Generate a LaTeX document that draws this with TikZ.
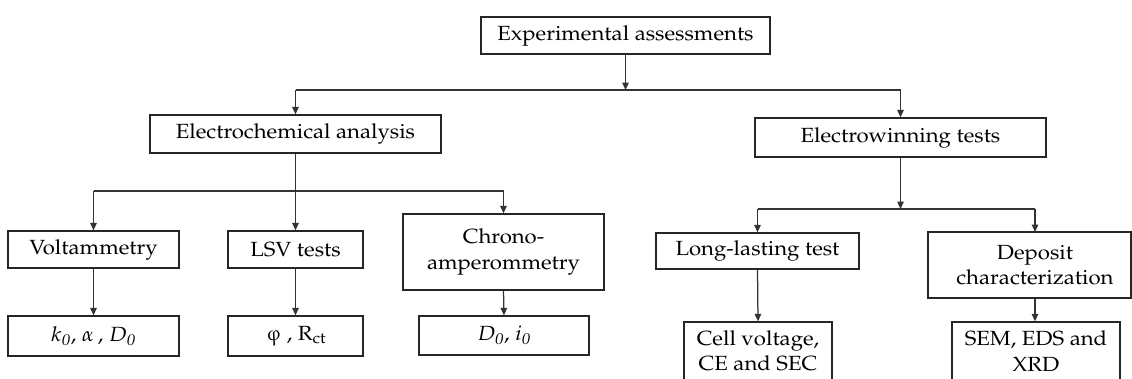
\documentclass[tikz,border=0pt]{standalone}
\usepackage[T1]{fontenc}
\usepackage{mathpazo}
\usetikzlibrary{arrows.meta,calc}
\newcommand{\hs}[1]{\scalebox{1.08}[1]{#1}}
\newcommand{\uphi}{\tikz[baseline=(p.base)]\node[inner sep=0pt,outer sep=0pt,minimum width=0pt,minimum height=0pt,draw=none,xslant=-0.22](p){$\varphi$};}
\tikzset{
  box/.style={draw=black!85, line width=1.25pt, inner sep=0pt, align=center,
    font=\fontsize{20.5}{25.5}\selectfont},
  arr/.style={draw=black!80, line width=1.25pt, -{Triangle[length=7.5pt,width=6.5pt]}},
  ln/.style={draw=black!80, line width=1.25pt}
}
\begin{document}
\begin{tikzpicture}[x=1pt,y=-1pt]
\useasboundingbox (0,0) rectangle (1132,378);
\clip (0,0) rectangle (1132,378);
% level 0
\node[box, minimum width=289pt, minimum height=37pt] (top) at (625.5,35.5) {\hs{Experimental assessments}};
% level 1
\node[box, minimum width=291pt, minimum height=38pt] (ea) at (295.5,134) {\hs{Electrochemical analysis}};
\node[box, minimum width=291pt, minimum height=39pt] (ew) at (900.5,137.5) {\hs{Electrowinning tests}};
% level 2 left
\node[box, minimum width=171pt, minimum height=37pt] (volt) at (93.5,249.5) {\hs{Voltammetry}};
\node[box, minimum width=135pt, minimum height=37pt] (lsv) at (295.5,249.5) {\hs{LSV tests}};
\node[box, minimum width=201pt, minimum height=76pt] (chr) at (503.5,252) {\hs{Chrono-}\\\hs{amperommetry}};
% level 3 left
\node[box, minimum width=171pt, minimum height=40pt] (r1) at (93.5,336) {\hs{$k_{\mathit{0}}$, $\alpha$\,, $D_{\mathit{0}}$}};
\node[box, minimum width=135pt, minimum height=40pt] (r2) at (295.5,336) {\hs{\uphi\,, $\mathrm{R_{ct}}$}};
\node[box, minimum width=170pt, minimum height=39pt] (r3) at (504,335.5) {\hs{$D_{\mathit{0}}$, $i_{\mathit{0}}$}};
% level 2 right
\node[box, minimum width=203pt, minimum height=36pt] (long) at (757.5,251) {\hs{Long-lasting test}};
\node[box, minimum width=203pt, minimum height=66pt] (dep) at (1029.5,265) {\hspace*{11pt}\hs{Deposit}\\\hspace*{11pt}\hs{characterization}};
% level 3 right (cut at the bottom edge)
\node[box, minimum width=148pt, minimum height=58pt] (cell) at (758,351) {\hs{Cell voltage,}\\\hs{CE and SEC}};
\node[box, minimum width=168pt, minimum height=58pt] (sem) at (1036,351) {\hs{SEM, EDS and}\\\hs{XRD}};
% junctions
\coordinate (j0) at (625.5,90);
\coordinate (j1) at (295.5,191);
\coordinate (j2) at (900.5,209);
\coordinate (dn) at (1035,232);
\coordinate (ds) at (1035,298);
% connectors
\draw[arr] (top.south) -- (j0);
\draw[ln] (ea.north |- j0) -- (ew.north |- j0);
\draw[arr] (ea.north |- j0) -- (ea.north);
\draw[arr] (ew.north |- j0) -- (ew.north);
\draw[ln] (ea.south) -- (j1);
\draw[ln] (volt.north |- j1) -- (chr.north |- j1);
\draw[arr] (volt.north |- j1) -- (volt.north);
\draw[arr] (j1) -- (lsv.north);
\draw[arr] (chr.north |- j1) -- (chr.north);
\draw[arr] (volt.south) -- (r1.north);
\draw[arr] (lsv.south) -- (r2.north);
\draw[arr] (chr.south) -- (r3.north);
\draw[arr] (ew.south) -- (j2);
\draw[ln] (long.north |- j2) -- (dn |- j2);
\draw[arr] (long.north |- j2) -- (long.north);
\draw[arr] (dn |- j2) -- (dn);
\draw[arr] (long.south) -- (cell.north);
\draw[arr] (ds) -- (ds |- sem.north);
\end{tikzpicture}
\end{document}
